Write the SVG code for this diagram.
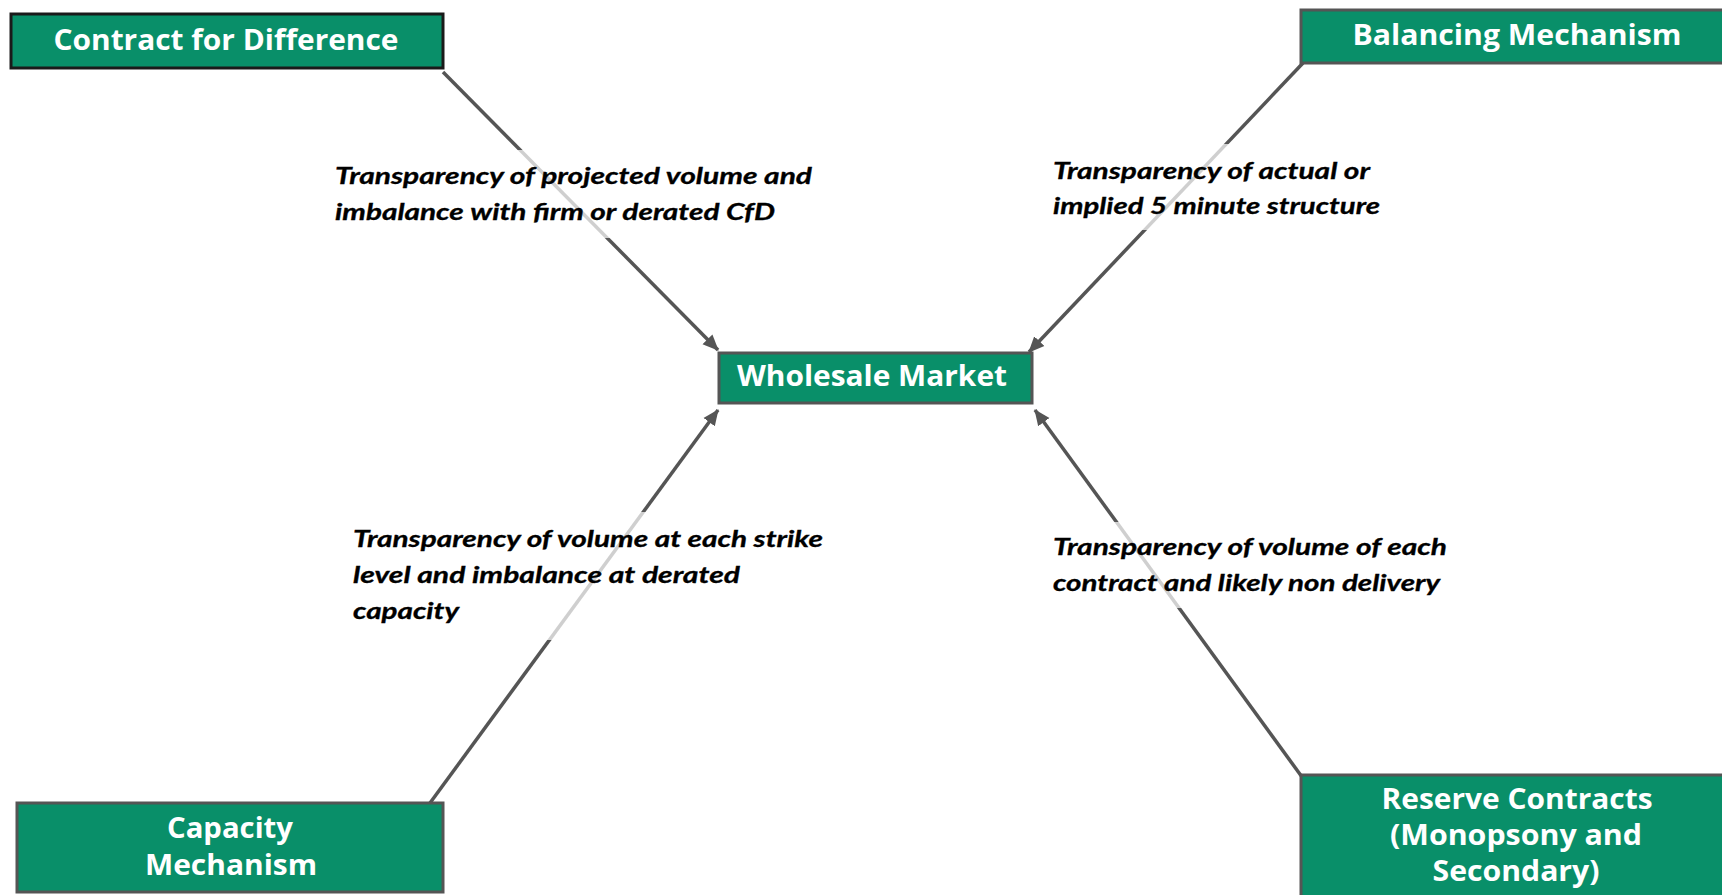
<svg xmlns="http://www.w3.org/2000/svg" width="1722" height="895" viewBox="0 0 1722 895">
<style>
.box{fill:#098f69;stroke:#555;stroke-width:3}
.box.dark{stroke:#1a1a1a}
.title{font-family:"Open Sans",sans-serif;font-weight:bold;font-size:28px;fill:#fff;text-anchor:middle}
.lbl{font-family:Lato,"Liberation Sans",sans-serif;font-weight:bold;font-style:italic;font-size:22px;fill:#000;stroke:#000;stroke-width:0.3}
.conn{stroke:#555;stroke-width:3.5;fill:none;marker-end:url(#arr)}
.veil{fill:#fff;opacity:0.72}
</style>
<defs>
<marker id="arr" markerUnits="userSpaceOnUse" markerWidth="16" markerHeight="16" viewBox="0 0 16 16" refX="15" refY="8" orient="auto">
<path d="M0,1 L16,8 L0,15 z" fill="#555"/>
</marker>
</defs>
<rect width="1722" height="895" fill="#fff"/>
<g id="connectors">
<line class="conn" x1="443" y1="72" x2="718" y2="350"/>
<line class="conn" x1="1303" y1="63" x2="1029" y2="352"/>
<line class="conn" x1="430" y1="803" x2="718" y2="410"/>
<line class="conn" x1="1302" y1="777" x2="1035" y2="410"/>
</g>
<g id="label-cfd">
<rect class="veil" x="330" y="150" width="490" height="88"/>
<text class="lbl" x="335" y="184" textLength="477" lengthAdjust="spacingAndGlyphs">Transparency of projected volume and</text>
<text class="lbl" x="335" y="220" textLength="440" lengthAdjust="spacingAndGlyphs">imbalance with firm or derated CfD</text>
</g>
<g id="label-bm">
<rect class="veil" x="1050" y="144" width="335" height="86"/>
<text class="lbl" x="1053" y="179" textLength="317" lengthAdjust="spacingAndGlyphs">Transparency of actual or</text>
<text class="lbl" x="1053" y="214" textLength="327" lengthAdjust="spacingAndGlyphs">implied 5 minute structure</text>
</g>
<g id="label-cm">
<rect class="veil" x="350" y="512" width="478" height="128"/>
<text class="lbl" x="353" y="547" textLength="470" lengthAdjust="spacingAndGlyphs">Transparency of volume at each strike</text>
<text class="lbl" x="353" y="583" textLength="387" lengthAdjust="spacingAndGlyphs">level and imbalance at derated</text>
<text class="lbl" x="353" y="619" textLength="106" lengthAdjust="spacingAndGlyphs">capacity</text>
</g>
<g id="label-rc">
<rect class="veil" x="1050" y="522" width="402" height="86"/>
<text class="lbl" x="1053" y="555" textLength="394" lengthAdjust="spacingAndGlyphs">Transparency of volume of each</text>
<text class="lbl" x="1053" y="591" textLength="387" lengthAdjust="spacingAndGlyphs">contract and likely non delivery</text>
</g>
<g id="node-cfd">
<rect class="box dark" x="11" y="14" width="432" height="54"/>
<text class="title" x="226" y="50" textLength="345" lengthAdjust="spacingAndGlyphs">Contract for Difference</text>
</g>
<g id="node-bm">
<rect class="box" x="1301" y="10" width="425" height="53"/>
<text class="title" x="1517" y="45" textLength="329" lengthAdjust="spacingAndGlyphs">Balancing Mechanism</text>
</g>
<g id="node-wm">
<rect class="box" x="719" y="353" width="313" height="50"/>
<text class="title" x="872" y="386" textLength="270" lengthAdjust="spacingAndGlyphs">Wholesale Market</text>
</g>
<g id="node-cm">
<rect class="box" x="17" y="803" width="426" height="89"/>
<text class="title" x="230" y="838" textLength="126" lengthAdjust="spacingAndGlyphs">Capacity</text>
<text class="title" x="231" y="875" textLength="172" lengthAdjust="spacingAndGlyphs">Mechanism</text>
</g>
<g id="node-rc">
<rect class="box" x="1301" y="775" width="425" height="125"/>
<text class="title" x="1517" y="809" textLength="271" lengthAdjust="spacingAndGlyphs">Reserve Contracts</text>
<text class="title" x="1516" y="845" textLength="252" lengthAdjust="spacingAndGlyphs">(Monopsony and</text>
<text class="title" x="1516" y="881" textLength="167" lengthAdjust="spacingAndGlyphs">Secondary)</text>
</g>
</svg>
